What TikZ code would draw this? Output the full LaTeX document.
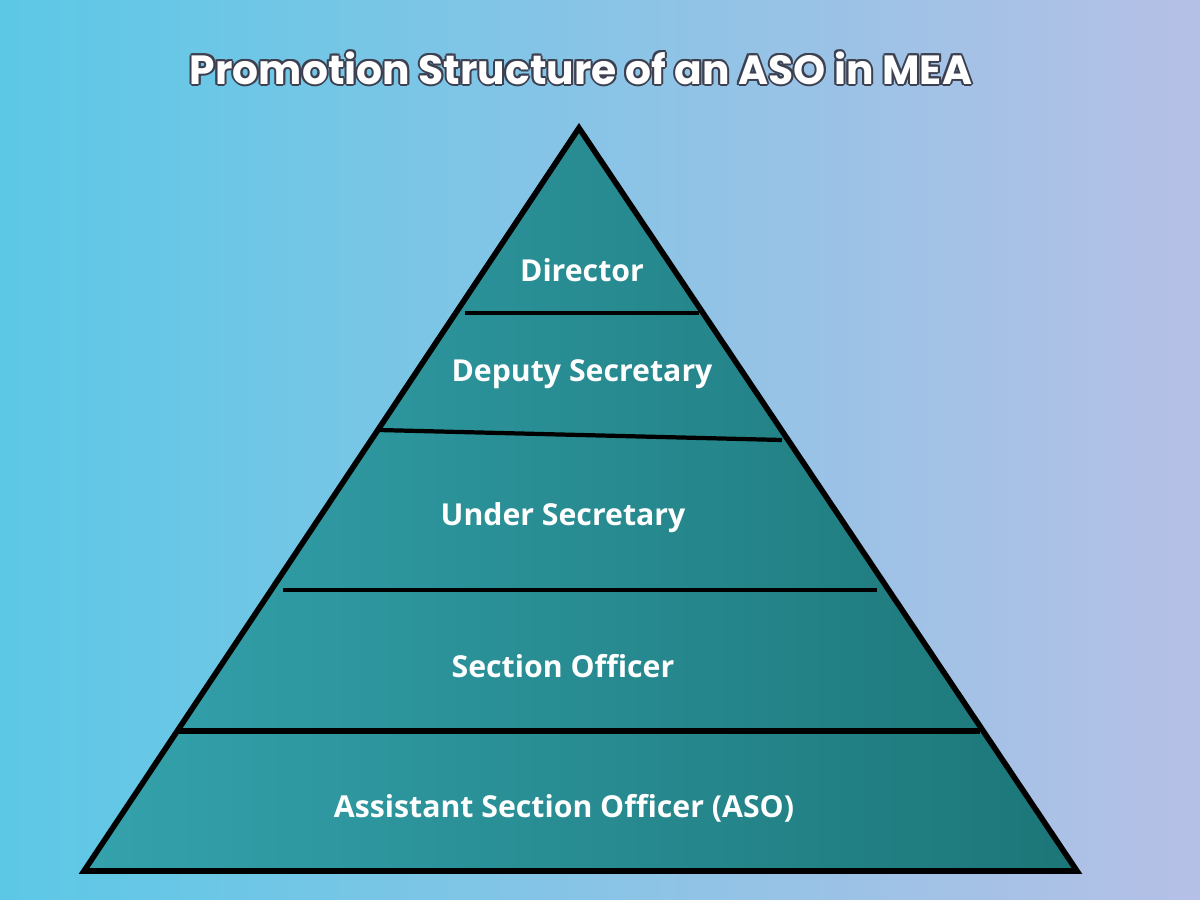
\documentclass[tikz,border=0pt]{standalone}
\usepackage{fontspec}
\setmainfont{Open Sans}
\newfontfamily\titlefont{Poppins}
\usetikzlibrary{positioning}
\definecolor{bgleft}{RGB}{92,200,230}
\definecolor{bgright}{RGB}{182,192,230}
\definecolor{tealleft}{RGB}{52,162,172}
\definecolor{tealright}{RGB}{28,118,120}
\definecolor{titleedge}{RGB}{60,64,80}
\tikzset{
  layer/.style={text=white,font=\bfseries\fontsize{8.6}{10}\selectfont},
  sep/.style={line width=1.2pt},
}
\begin{document}
\begin{tikzpicture}[x=0.01cm,y=-0.01cm]
  \useasboundingbox (0,0) rectangle (1200,900);
  \shade[left color=bgleft,right color=bgright] (0,0) rectangle (1200,900);
  % pyramid
  \shade[left color=tealleft,right color=tealright] (579,128) -- (1077,871) -- (84,871) -- cycle;
  \draw[line width=1.6pt,line join=miter] (579,128) -- (1077,871) -- (84,871) -- cycle;
  \draw[sep] (465,313) -- (699,313);
  \draw[sep] (379,430) -- (782,440);
  \draw[sep] (283,590) -- (877,590);
  \draw[line width=1.8pt] (178,731) -- (980,731);
  % labels
  \node[layer] (dir) at (582,270) {Director};
  \node[layer] (dep) at (582,374) {Deputy Secretary};
  \node[layer] (und) at (563,518) {Under Secretary};
  \node[layer] (sec) at (563,666) {Section Officer};
  \node[layer] (aso) at (564,808) {Assistant Section Officer (ASO)};
  % title with outline
  \foreach \dx/\dy in {-2/0,2/0,0/-2,0/2,-1.5/-1.5,1.5/1.5,-1.5/1.5,1.5/-1.5}
    \node[text=titleedge,font=\titlefont\bfseries\fontsize{11.6}{14}\selectfont] at (581+\dx,68+\dy) {Promotion Structure of an ASO in MEA};
  \node[text=white,font=\titlefont\bfseries\fontsize{11.6}{14}\selectfont] (title) at (581,68) {Promotion Structure of an ASO in MEA};
\end{tikzpicture}
\end{document}
